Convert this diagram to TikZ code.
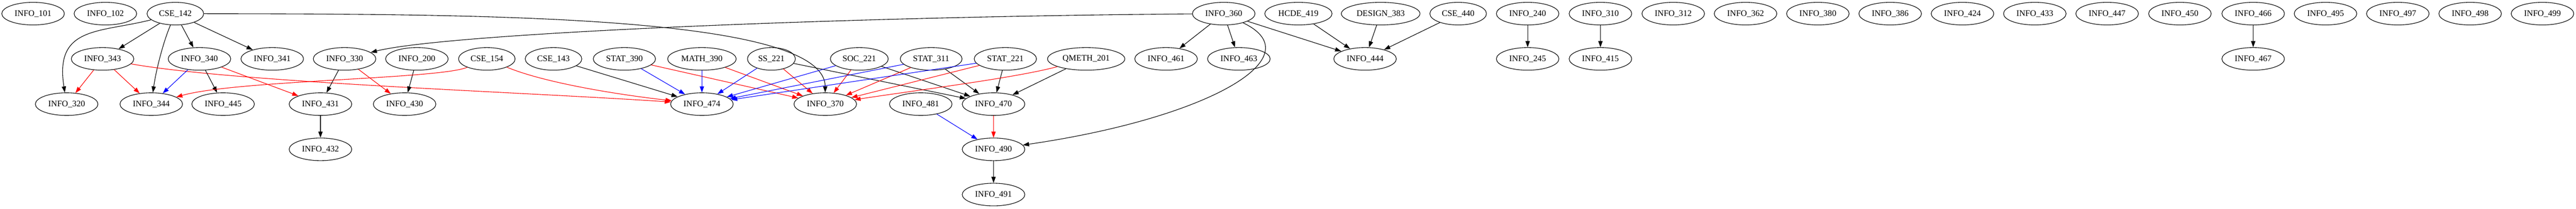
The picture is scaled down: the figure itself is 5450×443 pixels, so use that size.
\documentclass[tikz,border=0pt]{standalone}
\usepackage{fontspec}
\setmainfont{Liberation Serif}
\usepackage{tikz}
\usetikzlibrary{shapes.geometric, arrows.meta}
\tikzset{
    course/.style={draw, ellipse, line width=1.2pt, inner xsep=7.8pt, inner ysep=2pt, minimum height=48pt, font=\fontsize{18}{20}\selectfont},
    req/.style={-{Triangle[length=13pt, width=9pt]}, line width=1.2pt},
    redreq/.style={req, red},
    bluereq/.style={req, blue}
}
\begin{document}
\begin{tikzpicture}[x=1pt, y=-1pt]
          \useasboundingbox (0,0) rectangle (5450,443);
          \node [course] (info101) at (70,29) {INFO\_101};
          \node [course] (info102) at (223,29) {INFO\_102};
          \node [course] (cse142) at (371,29) {CSE\_142};
          \node [course] (info360) at (2589,29) {INFO\_360};
          \node [course] (hcde419) at (2747,29) {HCDE\_419};
          \node [course] (design383) at (2921,29) {DESIGN\_383};
          \node [course] (cse440) at (3085,29) {CSE\_440};
          \node [course] (info240) at (3232,29) {INFO\_240};
          \node [course] (info310) at (3386,29) {INFO\_310};
          \node [course] (info312) at (3540,29) {INFO\_312};
          \node [course] (info362) at (3693,29) {INFO\_362};
          \node [course] (info380) at (3846,29) {INFO\_380};
          \node [course] (info386) at (3999,29) {INFO\_386};
          \node [course] (info424) at (4152,29) {INFO\_424};
          \node [course] (info433) at (4305,29) {INFO\_433};
          \node [course] (info447) at (4458,29) {INFO\_447};
          \node [course] (info450) at (4612,29) {INFO\_450};
          \node [course] (info466) at (4767,29) {INFO\_466};
          \node [course] (info495) at (4920,29) {INFO\_495};
          \node [course] (info497) at (5073,29) {INFO\_497};
          \node [course] (info498) at (5226,29) {INFO\_498};
          \node [course] (info499) at (5379,29) {INFO\_499};
          \node [course] (info343) at (217,125) {INFO\_343};
          \node [course] (info340) at (422,125) {INFO\_340};
          \node [course] (info341) at (576,125) {INFO\_341};
          \node [course] (info330) at (729,125) {INFO\_330};
          \node [course] (info200) at (882,125) {INFO\_200};
          \node [course] (cse154) at (1030,125) {CSE\_154};
          \node [course] (cse143) at (1171,125) {CSE\_143};
          \node [course] (stat390) at (1321,125) {STAT\_390};
          \node [course] (math390) at (1485,125) {MATH\_390};
          \node [course] (ss221) at (1632,125) {SS\_221};
          \node [course] (soc221) at (1818,125) {SOC\_221};
          \node [course] (stat311) at (1970,125) {STAT\_311};
          \node [course] (stat221) at (2127,125) {STAT\_221};
          \node [course] (qmeth201) at (2298,125) {QMETH\_201};
          \node [course] (info461) at (2467,125) {INFO\_461};
          \node [course] (info463) at (2621,125) {INFO\_463};
          \node [course] (info444) at (2888,125) {INFO\_444};
          \node [course] (info245) at (3232,125) {INFO\_245};
          \node [course] (info415) at (3386,125) {INFO\_415};
          \node [course] (info467) at (4767,125) {INFO\_467};
          \node [course] (info320) at (141,221) {INFO\_320};
          \node [course] (info344) at (320,221) {INFO\_344};
          \node [course] (info445) at (472,221) {INFO\_445};
          \node [course] (info431) at (678,221) {INFO\_431};
          \node [course] (info430) at (856,221) {INFO\_430};
          \node [course] (info474) at (1485,221) {INFO\_474};
          \node [course] (info370) at (1746,221) {INFO\_370};
          \node [course] (info481) at (1948,221) {INFO\_481};
          \node [course] (info470) at (2102,221) {INFO\_470};
          \node [course] (info432) at (678,317) {INFO\_432};
          \node [course] (info490) at (2102,317) {INFO\_490};
          \node [course] (info491) at (2102,413) {INFO\_491};
          \draw [req] (cse142) .. controls (210,70) and (115,55) .. (info320);
          \draw [req] (cse142) -- (info343);
          \draw [req] (cse142) .. controls (345,90) and (330,150) .. (info344);
          \draw [req] (cse142) -- (info340);
          \draw [req] (cse142) -- (info341);
          \draw [req] (cse142) .. controls (1000,30) and (1745,30) .. (info370);
          \draw [redreq] (info343) -- (info320);
          \draw [redreq] (info343) -- (info344);
          \draw [redreq] (info343) .. controls (500,175) and (1100,195) .. (info474);
          \draw [bluereq] (info340) -- (info344);
          \draw [req] (info340) -- (info445);
          \draw [redreq] (info340) -- (info431);
          \draw [req] (info330) -- (info431);
          \draw [redreq] (info330) -- (info430);
          \draw [req] (info431) -- (info432);
          \draw [req] (info200) -- (info430);
          \draw [redreq] (cse154) .. controls (930,168) and (500,170) .. (info344);
          \draw [redreq] (cse154) .. controls (1150,175) and (1300,200) .. (info474);
          \draw [req] (cse143) -- (info474);
          \draw [bluereq] (stat390) -- (info474);
          \draw [redreq] (stat390) -- (info370);
          \draw [bluereq] (math390) -- (info474);
          \draw [redreq] (math390) -- (info370);
          \draw [bluereq] (ss221) -- (info474);
          \draw [redreq] (ss221) -- (info370);
          \draw [req] (ss221) -- (info470);
          \draw [bluereq] (soc221) -- (info474);
          \draw [redreq] (soc221) -- (info370);
          \draw [req] (soc221) -- (info470);
          \draw [bluereq] (stat311) -- (info474);
          \draw [redreq] (stat311) -- (info370);
          \draw [req] (stat311) -- (info470);
          \draw [bluereq] (stat221) -- (info474);
          \draw [redreq] (stat221) -- (info370);
          \draw [req] (stat221) -- (info470);
          \draw [redreq] (qmeth201) .. controls (2150,165) and (1950,190) .. (info370);
          \draw [req] (qmeth201) -- (info470);
          \draw [redreq] (info470) -- (info490);
          \draw [bluereq] (info481) -- (info490);
          \draw [req] (info490) -- (info491);
          \draw [req] (info360) .. controls (1800,35) and (950,70) .. (info330);
          \draw [req] (info360) -- (info461);
          \draw [req] (info360) -- (info463);
          \draw [req] (info360) -- (info444);
          \draw [req] (info360) .. controls (2780,120) and (2560,250) .. (info490);
          \draw [req] (hcde419) -- (info444);
          \draw [req] (design383) -- (info444);
          \draw [req] (cse440) -- (info444);
          \draw [req] (info240) -- (info245);
          \draw [req] (info310) -- (info415);
          \draw [req] (info466) -- (info467);
        \end{tikzpicture}
\end{document}
